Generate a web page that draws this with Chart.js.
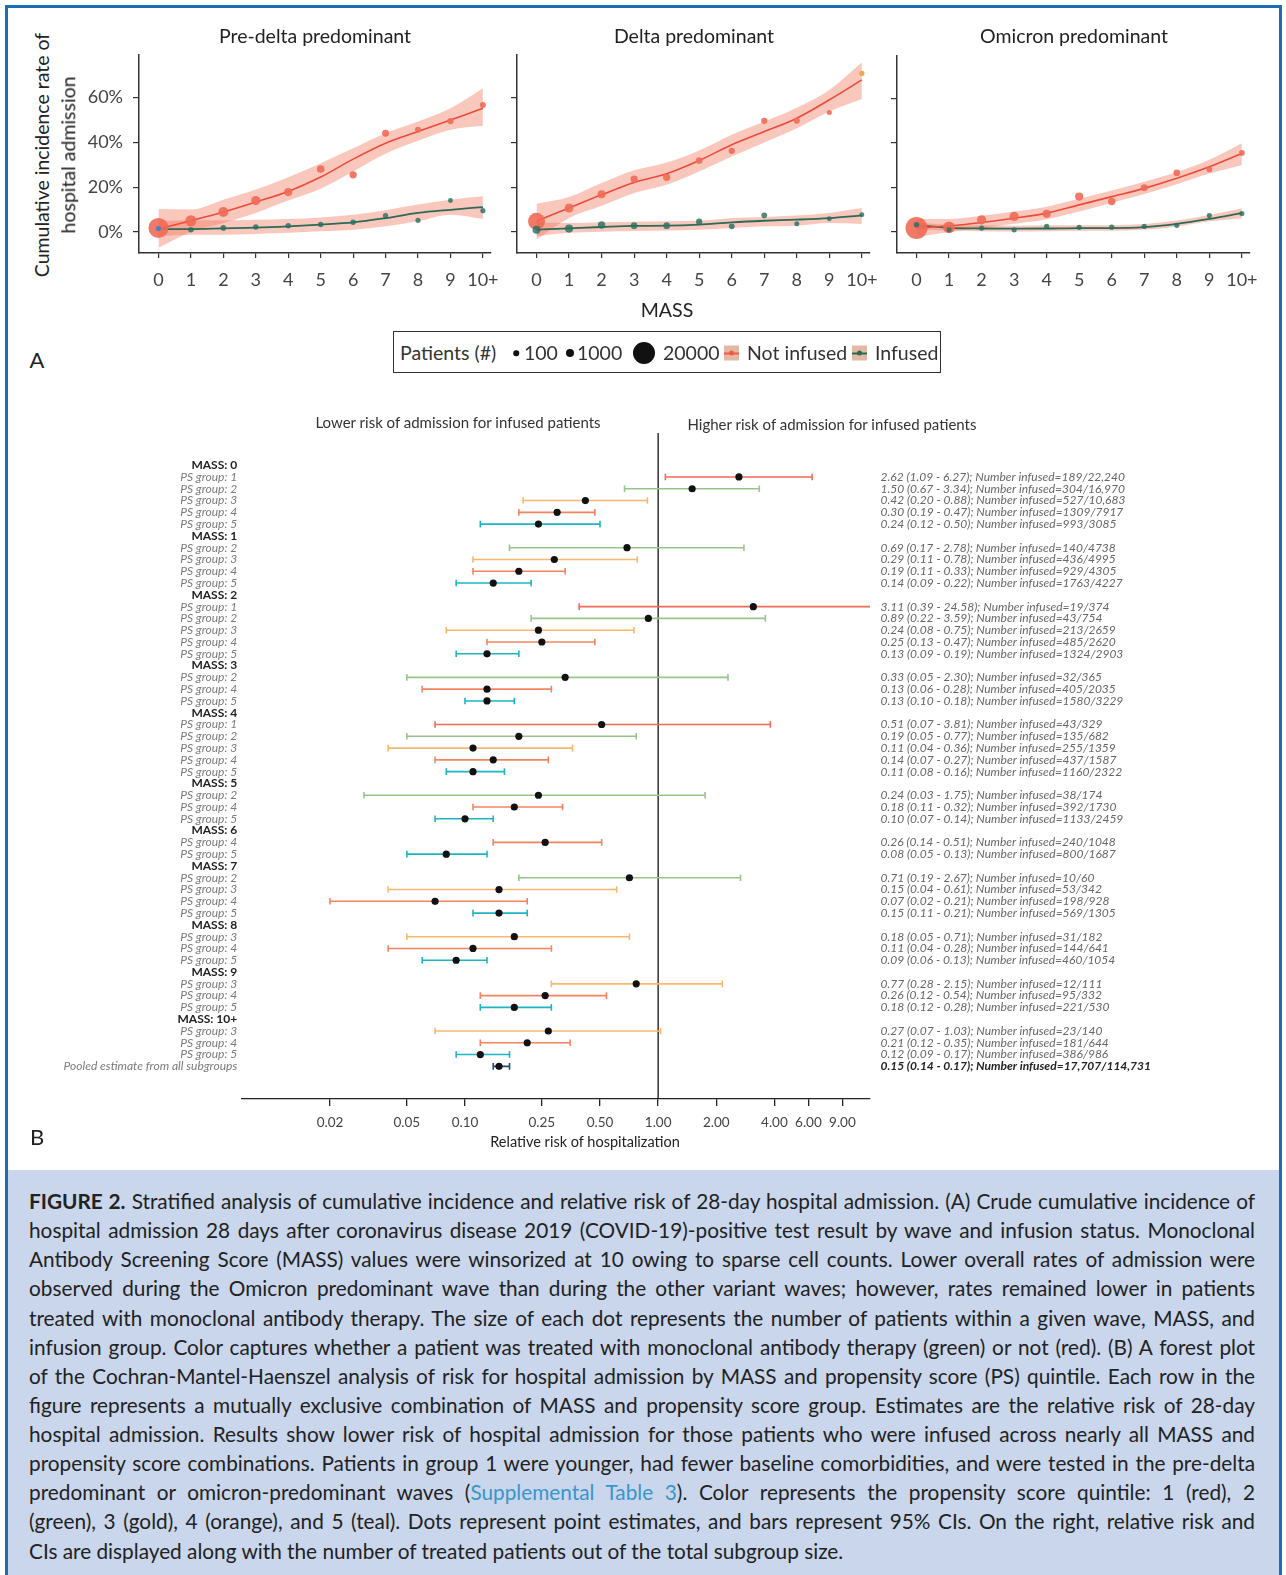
<!DOCTYPE html>
<html><head><meta charset="utf-8">
<script src="https://cdn.jsdelivr.net/npm/chart.js@4.4.1/dist/chart.umd.min.js"></script>
<style>
html,body{margin:0;padding:0;background:#fff;}
body{width:1286px;height:1575px;position:relative;overflow:hidden;font-family:Lato,'Open Sans',sans-serif;color:#222;}
#frame{position:absolute;left:5px;top:5px;width:1277px;height:1590px;border:3px solid #1b6db6;border-bottom:none;box-sizing:border-box;}
#caption{position:absolute;left:8px;top:1170px;width:1271px;height:405px;background:#c9d6ec;}
canvas{position:absolute;}
.t{position:absolute;white-space:nowrap;transform:translate(-50%,-50%);line-height:1;}
.l{position:absolute;white-space:nowrap;transform:translateY(-50%);line-height:1;}
.rot{position:absolute;white-space:nowrap;transform:translate(-50%,-50%) rotate(-90deg);line-height:1;font-size:19.5px;color:#222;}
#legend{position:absolute;left:393px;top:331px;width:548px;height:42px;border:1.5px solid #333;box-sizing:border-box;}
.dot{position:absolute;border-radius:50%;background:#111;transform:translate(-50%,-50%);}
.sw{position:absolute;width:15px;height:15px;background:#e3b9a6;transform:translateY(-50%);}
.sw i{position:absolute;left:0;right:0;top:7px;height:1.5px;}
.sw b{position:absolute;left:5px;top:5px;width:5px;height:5px;border-radius:50%;}
.lg{font-size:19.5px;color:#333;}
#captext{position:absolute;left:29px;top:1186px;width:1226px;color:#222;}
#captext div{height:29.14px;line-height:29.14px;text-align:justify;text-align-last:justify;}
#captext div.last{text-align-last:left;}
.lnk{color:#3a95c8;}
</style>
</head><body>
<div id="frame"></div>
<div id="caption"></div>

<canvas id="w0" width="445" height="255" style="left:60px;top:45px"></canvas>
<canvas id="w1" width="425" height="255" style="left:460px;top:45px"></canvas>
<canvas id="w2" width="425" height="255" style="left:840px;top:45px"></canvas>
<canvas id="forest" width="1286" height="760" style="left:0px;top:400px"></canvas>

<div class="t" style="left:315px;top:36px;font-size:19.5px">Pre-delta predominant</div>
<div class="t" style="left:694px;top:36px;font-size:19.5px">Delta predominant</div>
<div class="t" style="left:1074px;top:36px;font-size:19.5px">Omicron predominant</div>
<div class="rot" style="left:42px;top:155px">Cumulative incidence rate of</div>
<div class="rot" style="left:68px;top:155px">hospital admission</div>
<div class="t" style="left:667px;top:310px;font-size:19.5px">MASS</div>
<div class="t" style="left:37px;top:360px;font-size:22px">A</div>
<div class="t" style="left:37px;top:1137px;font-size:22px">B</div>

<div id="legend"></div>
<div class="l lg" style="left:400px;top:353px">Patients (#)</div>
<div class="dot" style="left:516px;top:353px;width:5.5px;height:5.5px"></div>
<div class="l lg" style="left:524px;top:353px">100</div>
<div class="dot" style="left:570px;top:353px;width:8px;height:8px"></div>
<div class="l lg" style="left:577px;top:353px">1000</div>
<div class="dot" style="left:644px;top:353px;width:22px;height:22px"></div>
<div class="l lg" style="left:663px;top:353px">20000</div>
<div class="sw" style="left:724px;top:353px"><i style="background:#ef5a45"></i><b style="background:#ef5a45"></b></div>
<div class="l lg" style="left:747px;top:353px">Not infused</div>
<div class="sw" style="left:852px;top:353px"><i style="background:#2b6a56"></i><b style="background:#2b6a56"></b></div>
<div class="l lg" style="left:875px;top:353px">Infused</div>

<div class="t" style="left:458px;top:422px;font-size:15px;color:#333">Lower risk of admission for infused patients</div>
<div class="t" style="left:832px;top:424px;font-size:15px;color:#333">Higher risk of admission for infused patients</div>
<div class="t" style="left:585px;top:1142px;font-size:14.5px;color:#222">Relative risk of hospitalization</div>

<div id="captext"></div>

<script>
// ================= Panel A data =================
const massX = [0, 1, 2, 3, 4, 5, 6, 7, 8, 9, 10];
const massTickLabels = ['0', '1', '2', '3', '4', '5', '6', '7', '8', '9', '10+'];
const rateTicks = [0, 0.2, 0.4, 0.6];

// Pre-delta predominant
const preDeltaNotInfusedRate = [0.018, 0.050, 0.089, 0.140, 0.178, 0.281, 0.255, 0.441, 0.456, 0.495, 0.567];
const preDeltaNotInfusedFit  = [0.013, 0.050, 0.089, 0.134, 0.181, 0.245, 0.325, 0.396, 0.448, 0.500, 0.552];
const preDeltaNotInfusedLow  = [-0.071, 0.000, 0.040, 0.085, 0.140, 0.193, 0.270, 0.349, 0.407, 0.456, 0.474];
const preDeltaNotInfusedHigh = [0.102, 0.100, 0.144, 0.189, 0.244, 0.307, 0.374, 0.441, 0.493, 0.552, 0.642];
const preDeltaNotInfusedN    = [15700, 2900, 2100, 1600, 1000, 750, 600, 480, 200, 270, 200];
const preDeltaInfusedRate = [0.015, 0.010, 0.018, 0.022, 0.028, 0.033, 0.043, 0.073, 0.052, 0.140, 0.095];
const preDeltaInfusedFit  = [0.013, 0.013, 0.016, 0.019, 0.025, 0.033, 0.043, 0.062, 0.085, 0.099, 0.111];
const preDeltaInfusedLow  = [-0.019, -0.012, -0.012, -0.009, -0.004, 0.003, 0.010, 0.025, 0.048, 0.077, 0.058];
const preDeltaInfusedHigh = [0.048, 0.052, 0.052, 0.055, 0.058, 0.065, 0.077, 0.097, 0.122, 0.144, 0.159];
const preDeltaInfusedN    = [40, 100, 120, 110, 100, 100, 90, 80, 60, 30, 50];

// Delta predominant
const deltaNotInfusedRate = [0.048, 0.107, 0.168, 0.236, 0.244, 0.319, 0.362, 0.496, 0.496, 0.533, 0.708];
const deltaNotInfusedFit  = [0.048, 0.107, 0.166, 0.221, 0.260, 0.319, 0.389, 0.448, 0.508, 0.590, 0.679];
const deltaNotInfusedLow  = [-0.034, 0.062, 0.117, 0.174, 0.211, 0.270, 0.337, 0.399, 0.463, 0.538, 0.593];
const deltaNotInfusedHigh = [0.126, 0.156, 0.218, 0.275, 0.310, 0.364, 0.434, 0.493, 0.555, 0.634, 0.756];
const deltaNotInfusedN    = [10300, 1400, 900, 600, 600, 380, 270, 270, 200, 40, 70];
const deltaInfusedRate = [0.010, 0.015, 0.031, 0.028, 0.028, 0.046, 0.025, 0.074, 0.037, 0.059, 0.077];
const deltaInfusedFit  = [0.010, 0.016, 0.022, 0.027, 0.028, 0.033, 0.043, 0.050, 0.055, 0.062, 0.074];
const deltaInfusedLow  = [-0.019, -0.004, 0.001, 0.004, 0.006, 0.010, 0.018, 0.025, 0.028, 0.040, 0.036];
const deltaInfusedHigh = [0.043, 0.040, 0.043, 0.046, 0.048, 0.050, 0.062, 0.067, 0.073, 0.085, 0.107];
const deltaInfusedN    = [900, 1000, 600, 380, 380, 270, 140, 140, 40, 30, 30];

// Omicron predominant
const omicronNotInfusedRate = [0.018, 0.021, 0.055, 0.070, 0.082, 0.159, 0.137, 0.199, 0.266, 0.281, 0.355];
const omicronNotInfusedFit  = [0.018, 0.028, 0.043, 0.062, 0.085, 0.122, 0.159, 0.196, 0.241, 0.293, 0.352];
const omicronNotInfusedLow  = [-0.022, 0.000, 0.018, 0.037, 0.058, 0.092, 0.132, 0.171, 0.215, 0.263, 0.300];
const omicronNotInfusedHigh = [0.059, 0.059, 0.073, 0.092, 0.114, 0.149, 0.186, 0.226, 0.270, 0.325, 0.399];
const omicronNotInfusedN    = [20000, 3800, 1600, 1600, 1000, 1000, 600, 480, 380, 140, 140];
const omicronInfusedRate = [0.033, 0.010, 0.018, 0.010, 0.025, 0.021, 0.022, 0.025, 0.030, 0.074, 0.083];
const omicronInfusedFit  = [0.031, 0.019, 0.016, 0.015, 0.016, 0.018, 0.018, 0.022, 0.037, 0.059, 0.085];
const omicronInfusedLow  = [0.010, 0.007, 0.004, 0.003, 0.004, 0.006, 0.006, 0.010, 0.025, 0.048, 0.062];
const omicronInfusedHigh = [0.043, 0.033, 0.030, 0.028, 0.030, 0.031, 0.031, 0.036, 0.052, 0.077, 0.107];
const omicronInfusedN    = [100, 60, 60, 60, 60, 60, 60, 60, 50, 50, 50];

// ================= Panel B data =================
const forestMass = ['0','0','0','0','0', '1','1','1','1', '2','2','2','2','2', '3','3','3', '4','4','4','4','4', '5','5','5', '6','6', '7','7','7','7', '8','8','8', '9','9','9', '10+','10+','10+'];
const forestPS   = [1,2,3,4,5, 2,3,4,5, 1,2,3,4,5, 2,4,5, 1,2,3,4,5, 2,4,5, 4,5, 2,3,4,5, 3,4,5, 3,4,5, 3,4,5];
const forestRR   = [2.62,1.50,0.42,0.30,0.24, 0.69,0.29,0.19,0.14, 3.11,0.89,0.24,0.25,0.13, 0.33,0.13,0.13, 0.51,0.19,0.11,0.14,0.11, 0.24,0.18,0.10, 0.26,0.08, 0.71,0.15,0.07,0.15, 0.18,0.11,0.09, 0.77,0.26,0.18, 0.27,0.21,0.12];
const forestLow  = [1.09,0.67,0.20,0.19,0.12, 0.17,0.11,0.11,0.09, 0.39,0.22,0.08,0.13,0.09, 0.05,0.06,0.10, 0.07,0.05,0.04,0.07,0.08, 0.03,0.11,0.07, 0.14,0.05, 0.19,0.04,0.02,0.11, 0.05,0.04,0.06, 0.28,0.12,0.12, 0.07,0.12,0.09];
const forestHigh = [6.27,3.34,0.88,0.47,0.50, 2.78,0.78,0.33,0.22, 24.58,3.59,0.75,0.47,0.19, 2.30,0.28,0.18, 3.81,0.77,0.36,0.27,0.16, 1.75,0.32,0.14, 0.51,0.13, 2.67,0.61,0.21,0.21, 0.71,0.28,0.13, 2.15,0.54,0.28, 1.03,0.35,0.17];
const forestInfused = [189,304,527,1309,993, 140,436,929,1763, 19,43,213,485,1324, 32,405,1580, 43,135,255,437,1160, 38,392,1133, 240,800, 10,53,198,569, 31,144,460, 12,95,221, 23,181,386];
const forestTotal   = [22240,16970,10683,7917,3085, 4738,4995,4305,4227, 374,754,2659,2620,2903, 365,2035,3229, 329,682,1359,1587,2322, 174,1730,2459, 1048,1687, 60,342,928,1305, 182,641,1054, 111,332,530, 140,644,986];
const pooledLabel = 'Pooled estimate from all subgroups';
const pooledRR = 0.15, pooledLow = 0.14, pooledHigh = 0.17, pooledInfused = 17707, pooledTotal = 114731;
const forestTicks = [0.02, 0.05, 0.10, 0.25, 0.50, 1.00, 2.00, 4.00, 6.00, 9.00];

// ================= Caption =================
const captionLines = [
 '<b>FIGURE 2.</b> Stratified analysis of cumulative incidence and relative risk of 28-day hospital admission. (A) Crude cumulative incidence of',
 'hospital admission 28 days after coronavirus disease 2019 (COVID-19)-positive test result by wave and infusion status. Monoclonal',
 'Antibody Screening Score (MASS) values were winsorized at 10 owing to sparse cell counts. Lower overall rates of admission were',
 'observed during the Omicron predominant wave than during the other variant waves; however, rates remained lower in patients',
 'treated with monoclonal antibody therapy. The size of each dot represents the number of patients within a given wave, MASS, and',
 'infusion group. Color captures whether a patient was treated with monoclonal antibody therapy (green) or not (red). (B) A forest plot',
 'of the Cochran-Mantel-Haenszel analysis of risk for hospital admission by MASS and propensity score (PS) quintile. Each row in the',
 'figure represents a mutually exclusive combination of MASS and propensity score group. Estimates are the relative risk of 28-day',
 'hospital admission. Results show lower risk of hospital admission for those patients who were infused across nearly all MASS and',
 'propensity score combinations. Patients in group 1 were younger, had fewer baseline comorbidities, and were tested in the pre-delta',
 'predominant or omicron-predominant waves (<span class="lnk">Supplemental Table 3</span>). Color represents the propensity score quintile: 1 (red), 2',
 '(green), 3 (gold), 4 (orange), and 5 (teal). Dots represent point estimates, and bars represent 95% CIs. On the right, relative risk and',
 'CIs are displayed along with the number of treated patients out of the total subgroup size.'
];

// ================= Build =================
Chart.defaults.font.family = 'Lato, "Open Sans", sans-serif';
Chart.defaults.animation = false;

// remove Chart.js automatic label padding so the plot area lands exactly where set
const noPad = s => { s.paddingTop = 0; s.paddingBottom = 0; s.paddingLeft = 0; s.paddingRight = 0; };

const waves = [
  {id:'w0', yw:79, pr:14, labels:true,
   nr:preDeltaNotInfusedRate, nf:preDeltaNotInfusedFit, nl:preDeltaNotInfusedLow, nh:preDeltaNotInfusedHigh, nn:preDeltaNotInfusedN,
   ir:preDeltaInfusedRate, inf:preDeltaInfusedFit, il:preDeltaInfusedLow, ih:preDeltaInfusedHigh, inn:preDeltaInfusedN,
   iAccent:{0:'#4a7fc4'}, nAccent:{}},
  {id:'w1', yw:57, pr:15, labels:false,
   nr:deltaNotInfusedRate, nf:deltaNotInfusedFit, nl:deltaNotInfusedLow, nh:deltaNotInfusedHigh, nn:deltaNotInfusedN,
   ir:deltaInfusedRate, inf:deltaInfusedFit, il:deltaInfusedLow, ih:deltaInfusedHigh, inn:deltaInfusedN,
   iAccent:{}, nAccent:{10:'#f5a24c'}},
  {id:'w2', yw:57, pr:15, labels:false,
   nr:omicronNotInfusedRate, nf:omicronNotInfusedFit, nl:omicronNotInfusedLow, nh:omicronNotInfusedHigh, nn:omicronNotInfusedN,
   ir:omicronInfusedRate, inf:omicronInfusedFit, il:omicronInfusedLow, ih:omicronInfusedHigh, inn:omicronInfusedN,
   iAccent:{}, nAccent:{}}
];
const sizeScale = n => (4.24 + 0.1256 * Math.sqrt(n)) / 2;
const RIBBON = 'rgba(243,122,96,0.42)';
const RED_LINE = '#ee4a3a', RED_PT = 'rgba(240,106,86,0.9)';
const GRN_LINE = '#2b6a56', GRN_PT = 'rgba(40,112,96,0.82)';
const AX = '#333';

waves.forEach(w => {
  const pts = ys => massX.map((x, i) => ({x, y: ys[i]}));
  const band = {borderWidth:0, borderColor:'transparent', pointRadius:0, cubicInterpolationMode:'monotone', order:3};
  new Chart(document.getElementById(w.id), {
    type:'line',
    data:{datasets:[
      Object.assign({data:pts(w.nh), fill:'+1', backgroundColor:RIBBON}, band),
      Object.assign({data:pts(w.nl), fill:false}, band),
      Object.assign({data:pts(w.ih), fill:'+1', backgroundColor:RIBBON}, band),
      Object.assign({data:pts(w.il), fill:false}, band),
      {data:pts(w.nf), borderColor:RED_LINE, borderWidth:1.6, pointRadius:0, fill:false, cubicInterpolationMode:'monotone', order:2},
      {data:pts(w.inf), borderColor:GRN_LINE, borderWidth:1.8, pointRadius:0, fill:false, cubicInterpolationMode:'monotone', order:2},
      {data:pts(w.nr), showLine:false, pointRadius:c => sizeScale(w.nn[c.dataIndex]), pointHoverRadius:0, pointBorderWidth:0,
       pointBackgroundColor:c => w.nAccent[c.dataIndex] || RED_PT, order:1},
      {data:pts(w.ir), showLine:false, pointRadius:c => sizeScale(w.inn[c.dataIndex]), pointHoverRadius:0, pointBorderWidth:0,
       pointBackgroundColor:c => w.iAccent[c.dataIndex] || GRN_PT, order:0}
    ]},
    options:{
      responsive:false, maintainAspectRatio:false, animation:false,
      layout:{padding:{top:10, right:w.pr, left:0, bottom:0}},
      plugins:{legend:{display:false}, tooltip:{enabled:false}},
      scales:{
        x:{type:'linear', min:-0.6, max:10.25,
           afterBuildTicks:s => { s.ticks = massX.map(v => ({value:v})); },
           afterFit:s => { s.height = 47; noPad(s); },
           ticks:{callback:(v, i) => massTickLabels[i], font:{size:18}, color:'#444', padding:11, maxRotation:0, autoSkip:false},
           grid:{drawOnChartArea:false, drawTicks:true, tickLength:5, color:AX, lineWidth:1.2},
           border:{display:true, color:AX, width:1.5}},
        y:{type:'linear', min:-0.094, max:0.79,
           afterBuildTicks:s => { s.ticks = rateTicks.map(v => ({value:v})); },
           afterFit:s => { s.width = w.yw; noPad(s); },
           ticks:{display:w.labels, callback:v => Math.round(v * 100) + '%', font:{size:18}, color:'#444', padding:10},
           grid:{drawOnChartArea:false, drawTicks:true, tickLength:6, color:AX, lineWidth:1.2},
           border:{display:true, color:AX, width:1.5}}
      }
    }
  });
});

// ---- Forest ----
const psColors = {1:'#f26a58', 2:'#99c58c', 3:'#fbb86c', 4:'#f4845e', 5:'#1bb6c5'};
const POOLED = '#1d4f7c';
const f2 = v => v.toFixed(2);
const fN = n => n >= 10000 ? n.toLocaleString('en-US') : String(n);
const rows = [];
let prevMass = null;
forestMass.forEach((m, i) => {
  if (m !== prevMass) { rows.push({label:'MASS: ' + m, kind:'head', text:''}); prevMass = m; }
  rows.push({label:'PS group: ' + forestPS[i], kind:'ps', rr:forestRR[i], lo:forestLow[i], hi:forestHigh[i], color:psColors[forestPS[i]],
    text: f2(forestRR[i]) + ' (' + f2(forestLow[i]) + ' - ' + f2(forestHigh[i]) + '); Number infused=' + fN(forestInfused[i]) + '/' + fN(forestTotal[i])});
});
rows.push({label:pooledLabel, kind:'pooled', rr:pooledRR, lo:pooledLow, hi:pooledHigh, color:POOLED,
  text: f2(pooledRR) + ' (' + f2(pooledLow) + ' - ' + f2(pooledHigh) + '); Number infused=' + fN(pooledInfused) + '/' + fN(pooledTotal)});

const Y_MIN = -2.73, Y_MAX = 53.77;
const fDatasets = [];
fDatasets.push({data:[{x:1, y:Y_MIN}, {x:1, y:Y_MAX}], borderColor:'#111', borderWidth:1.3, pointRadius:0, order:5});
rows.forEach((r, idx) => {
  if (r.kind === 'head') return;
  fDatasets.push({data:[{x:r.lo, y:idx}, {x:r.hi, y:idx}], borderColor:r.color, borderWidth:1.6,
    pointStyle:'line', pointRotation:90, pointRadius:3.3, pointBorderColor:r.color, pointBorderWidth:1.6, pointHoverRadius:0, order:2});
});
fDatasets.push({data:rows.map((r, idx) => r.kind === 'head' ? null : {x:r.rr, y:idx}).filter(Boolean),
  showLine:false, pointRadius:3.6, pointBackgroundColor:'#111', pointBorderWidth:0, pointHoverRadius:0, order:0});

const rowFont = c => {
  const r = rows[c.index];
  if (!r) return {size:12};
  if (r.kind === 'head') return {size:12, weight:'bold', style:'normal'};
  return {size:12, style:'italic', weight:'normal'};
};
new Chart(document.getElementById('forest'), {
  type:'line',
  data:{datasets:fDatasets},
  options:{
    responsive:false, maintainAspectRatio:false, animation:false,
    layout:{padding:{top:33, left:0, right:0, bottom:0}},
    plugins:{legend:{display:false}, tooltip:{enabled:false}},
    scales:{
      x:{type:'logarithmic', min:0.00698, max:12.5,
         afterBuildTicks:s => { s.ticks = forestTicks.map(v => ({value:v})); },
         afterFit:s => { s.height = 61; noPad(s); },
         ticks:{callback:v => Number(v).toFixed(2), font:{size:13.5}, color:'#444', padding:9, maxRotation:0, autoSkip:false},
         grid:{drawOnChartArea:false, drawTicks:true, tickLength:7, color:'#222', lineWidth:1.3},
         border:{display:true, color:'#222', width:1.3}},
      y:{type:'linear', position:'left', reverse:true, min:Y_MIN, max:Y_MAX,
         afterBuildTicks:s => { s.ticks = rows.map((r, i) => ({value:i})); },
         afterFit:s => { s.width = 241.7; noPad(s); },
         ticks:{autoSkip:false, padding:4.5, callback:(v, i) => rows[i] ? rows[i].label : '',
                font:rowFont, color:c => (rows[c.index] && rows[c.index].kind === 'head') ? '#222' : '#7a7a7a'},
         grid:{display:false, drawTicks:false}, border:{display:false}},
      y2:{type:'linear', position:'right', reverse:true, min:Y_MIN, max:Y_MAX,
         afterBuildTicks:s => { s.ticks = rows.map((r, i) => ({value:i})); },
         afterFit:s => { s.width = 416; noPad(s); },
         ticks:{autoSkip:false, padding:10.5, callback:(v, i) => rows[i] ? rows[i].text : '',
                font:c => (rows[c.index] && rows[c.index].kind === 'pooled') ? {size:12, style:'italic', weight:'bold'} : {size:12, style:'italic', weight:'normal'},
                color:c => (rows[c.index] && rows[c.index].kind === 'pooled') ? '#222' : '#666'},
         grid:{display:false, drawTicks:false}, border:{display:false}}
    }
  }
});

// ---- Caption layout ----
(function(){
  const box = document.getElementById('captext');
  const m = document.createElement('canvas').getContext('2d');
  let maxW = 0;
  captionLines.forEach(l => {
    const plain = l.replace(/<[^>]+>/g, '');
    m.font = '20px Lato';
    maxW = Math.max(maxW, m.measureText(plain).width + 8);
  });
  const fs = Math.min(21, 20 * 1222 / maxW);
  box.style.fontSize = fs.toFixed(2) + 'px';
  captionLines.forEach((l, i) => {
    const d = document.createElement('div');
    d.innerHTML = l;
    if (i === captionLines.length - 1) d.className = 'last';
    box.appendChild(d);
  });
})();
</script>
</body></html>
